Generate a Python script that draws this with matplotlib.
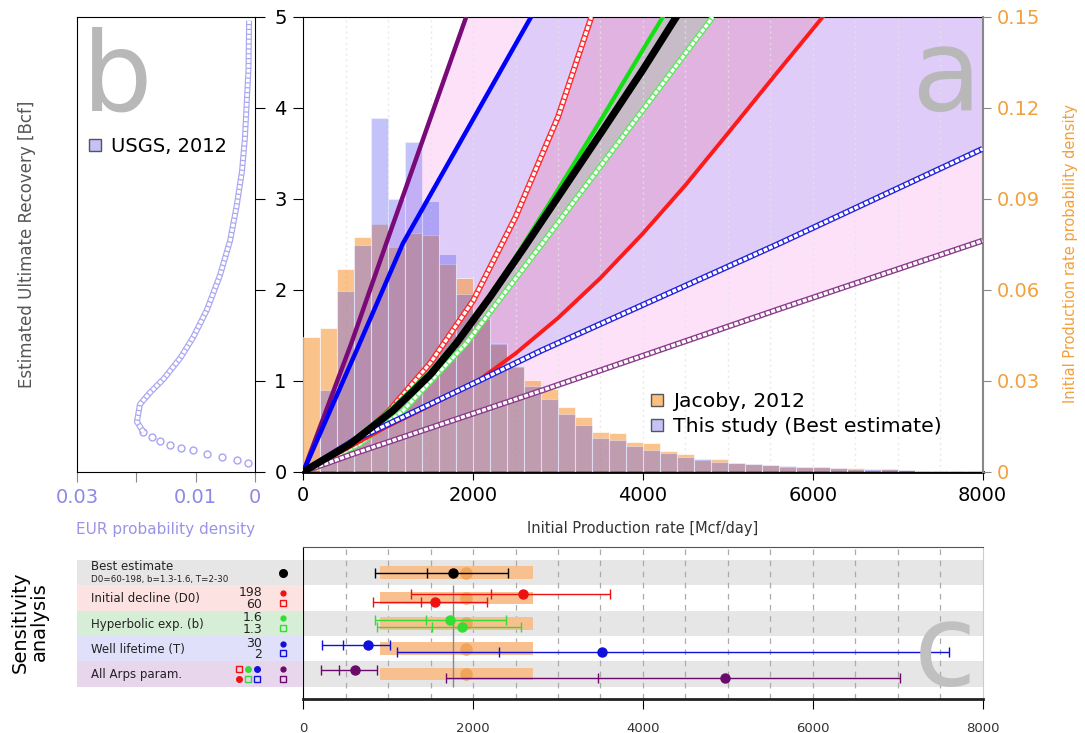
import numpy as np
import matplotlib.pyplot as plt
from matplotlib.lines import Line2D

plt.rcParams['font.family'] = 'DejaVu Sans'
plt.rcParams['lines.scale_dashes'] = False

# ---------------- panel a: initial production rate histograms (density)
ip_edges = np.arange(0, 8001, 200)
jacoby_dens = [0.0444, 0.0474, 0.0670, 0.0774, 0.0818, 0.0741, 0.0788, 0.0780,
               0.0686, 0.0640, 0.0505, 0.0420, 0.0347, 0.0301, 0.0272, 0.0215,
               0.0182, 0.0132, 0.0129, 0.0097, 0.0094, 0.0068, 0.0058, 0.0040,
               0.0041, 0.0030, 0.0025, 0.0022, 0.0017, 0.0017, 0.0014, 0.0012,
               0.0011, 0.0007, 0.0008, 0.0004, 0.0003, 0.0002, 0.0002, 0.0001]
study_dens = [0.0, 0.0271, 0.0595, 0.0749, 0.1168, 0.0900, 0.1088, 0.0892,
              0.0719, 0.0587, 0.0510, 0.0424, 0.0350, 0.0282, 0.0239, 0.0191,
              0.0154, 0.0112, 0.0105, 0.0086, 0.0072, 0.0061, 0.0050, 0.0042,
              0.0033, 0.0029, 0.0025, 0.0022, 0.0019, 0.0016, 0.0014, 0.0012,
              0.0009, 0.0008, 0.0008, 0.0005, 0.0003, 0.0002, 0.0001, 0.0001]

# EUR [Bcf] against initial production rate [Mcf/day]
best_x = [0, 546, 1055, 1500, 1800, 2200, 2605, 3000, 3510, 4000, 4393]
best_y = [0, 0.30, 0.67, 1.07, 1.41, 1.92, 2.47, 3.02, 3.73, 4.42, 5.0]
d0_60_x = [0, 500, 1000, 1500, 2000, 2500, 3000, 3393]
d0_60_y = [0, 0.24, 0.66, 1.20, 1.88, 2.80, 3.90, 5.0]
d0_198_x = [0, 467, 976, 1500, 2035, 2500, 3000, 3500, 4000, 4500, 5000,
            5608, 6118]
d0_198_y = [0, 0.23, 0.49, 0.73, 0.985, 1.30, 1.69, 2.13, 2.62, 3.15, 3.72,
            4.42, 5.0]
b16_x = [0, 500, 1000, 1500, 2000, 2500, 3000, 3500, 4000, 4235]
b16_y = [0, 0.28, 0.66, 1.10, 1.66, 2.36, 3.10, 3.86, 4.64, 5.0]
b13_x = [0, 663, 1173, 1918, 2800, 4824]
b13_y = [0, 0.305, 0.67, 1.41, 2.49, 5.0]
t30_x = [0, 663, 1173, 1918, 2682]
t30_y = [0, 1.41, 2.51, 3.74, 5.0]
t2_x = [0, 585, 1173, 2035, 2800, 5608, 8000]
t2_y = [0, 0.34, 0.60, 0.985, 1.33, 2.51, 3.55]
all_hi_x = [0, 565, 977, 1918]
all_hi_y = [0, 1.41, 2.51, 5.0]
all_lo_x = [0, 585, 1173, 2800, 5608, 8000]
all_lo_y = [0, 0.195, 0.38, 0.89, 1.79, 2.54]

# ---------------- panel b: USGS EUR probability density
usgs_eur = [0.095, 0.13, 0.16, 0.19, 0.235, 0.265, 0.295, 0.34, 0.385, 0.435,
            0.55, 0.74, 0.87, 1.02, 1.25, 1.48, 1.78, 2.16, 2.54, 2.92, 3.30,
            3.67, 4.05, 4.43, 4.96]
usgs_dens = [0.0011, 0.0031, 0.0056, 0.0081, 0.0104, 0.0124, 0.0143, 0.0160,
             0.0174, 0.0188, 0.0199, 0.0194, 0.0177, 0.0154, 0.0126, 0.0104,
             0.0081, 0.0059, 0.0042, 0.0031, 0.0022, 0.0017, 0.0014, 0.0011,
             0.0010]

# ---------------- panel c: sensitivity of initial production rate
jacoby_range = (900, 2700)
jacoby_mean = 1920
sens_row = [5, 4, 4, 3, 3, 2, 2, 1, 1]
sens_lo = [844, 1267, 820, 844, 863, 216, 1099, 204, 1679]
sens_mid = [1455, 2208, 1388, 1451, 1514, 463, 2302, 424, 3471]
sens_mean = [1762, 2588, 1553, 1730, 1871, 765, 3518, 612, 4965]
sens_hi = [2407, 3616, 2161, 2392, 2569, 1020, 7608, 867, 7029]
sens_col = ['black', '#ee1111', '#ee1111', '#33dd33', '#33dd33',
            '#1010dd', '#1010dd', '#6a0a6a', '#6a0a6a']
sens_off = [0, 0.15, -0.15, 0.15, -0.15, 0.15, -0.15, 0.15, -0.15]

row_names = ['Best estimate', 'Initial decline (D0)', 'Hyperbolic exp. (b)',
             'Well lifetime (T)', 'All Arps param.']
row_values = [None, ('198', '60'), ('1.6', '1.3'), ('30', '2'), None]

W, H = 1085, 733


def box(l, t, r, b):
    return [l / W, 1 - b / H, (r - l) / W, (b - t) / H]


def chain(axis, x, y, color, width=4.3, inner=2.4, dash=(3.0, 1.0), z=5):
    # open-marker look: coloured band with a broken white core
    axis.plot(x, y, color=color, lw=width, solid_capstyle='butt', zorder=z)
    axis.plot(x, y, color='white', lw=inner, dashes=dash,
              dash_capstyle='butt', zorder=z)


def band(axis, xu, yu, xl, yl, color, alpha, corner=None):
    xs = list(xu) + ([corner[0]] if corner else []) + list(xl[::-1])
    ys = list(yu) + ([corner[1]] if corner else []) + list(yl[::-1])
    axis.fill(xs, ys, color=color, alpha=alpha, lw=0, zorder=1)


fig = plt.figure(figsize=(10.85, 7.33), dpi=100)
ax = fig.add_axes(box(303.3, 17, 982.5, 471.7))
ax_b = fig.add_axes(box(77, 17, 255, 471.7))
ax_c = fig.add_axes(box(303.3, 547.3, 982.5, 699.3))
ax_t = fig.add_axes(box(77, 547.3, 303.3, 699.3))

# ---- panel a
ax.set_xlim(0, 8000)
ax.set_ylim(0, 5)
corner = (8000, 5)
band(ax, all_hi_x, all_hi_y, all_lo_x, all_lo_y, '#fab6f2', 0.4, corner)
band(ax, t30_x, t30_y, t2_x, t2_y, '#c3b8fa', 0.5, corner)
band(ax, d0_60_x, d0_60_y, d0_198_x, d0_198_y, '#e58ebe', 0.4)
band(ax, b16_x, b16_y, b13_x, b13_y, '#a1c8a4', 0.4)
for xv in range(500, 8000, 500):
    ax.axvline(xv, color='#e4e4e4', lw=1, ls=(0, (1.5, 2.5)), alpha=0.8, zorder=2)

ax.set_xticks([0, 2000, 4000, 6000, 8000])
ax.set_yticks([0, 1, 2, 3, 4, 5])
ax.tick_params(axis='x', labelsize=14, length=6, pad=4)
ax.tick_params(axis='y', labelsize=14, length=7, pad=5)
ax.spines['right'].set_visible(False)
ax.spines['bottom'].set_linewidth(2)
ax.set_xlabel('Initial Production rate [Mcf/day]', fontsize=10.5, color='#333')
ax.xaxis.set_label_coords(0.5, -0.108)

axh = ax.twinx()
axh.set_ylim(0, 0.15)
axh.bar(ip_edges[:-1], jacoby_dens, width=200, align='edge', color='#f79b3f',
        alpha=0.6, edgecolor='white', lw=0.8)
axh.bar(ip_edges[:-1], study_dens, width=200, align='edge', color='#5454f1',
        alpha=0.35, edgecolor='white', lw=0.8)
axh.set_yticks([0, 0.03, 0.06, 0.09, 0.12, 0.15])
axh.set_yticklabels(['0', '0.03', '0.06', '0.09', '0.12', '0.15'])
axh.tick_params(axis='y', labelsize=14, labelcolor='#f2a03c', color='#888',
                length=6, pad=4)
for s in ('left', 'top', 'bottom'):
    axh.spines[s].set_visible(False)
axh.spines['right'].set_color('#888')
axh.spines['right'].set_linewidth(1.5)
axh.set_ylabel('Initial Production rate probability density', fontsize=10.5,
               color='#f2a03c')
axh.yaxis.set_label_coords(1.118, 0.48)

axc = ax.twinx()
axc.set_ylim(0, 5)
axc.yaxis.set_visible(False)
for s in axc.spines.values():
    s.set_visible(False)
axc.plot(all_hi_x, all_hi_y, color='#7a0a7a', lw=3.2, zorder=5)
axc.plot(t30_x, t30_y, color='#0000ff', lw=3.2, zorder=5)
chain(axc, d0_60_x, d0_60_y, '#ff2a2a')
chain(axc, b13_x, b13_y, '#5fe85f')
axc.plot(b16_x, b16_y, color='#11e011', lw=3.0, zorder=5)
axc.plot(best_x, best_y, color='black', lw=5.2, zorder=6)
axc.plot(d0_198_x, d0_198_y, color='#ff1a1a', lw=2.8, zorder=5)
chain(axc, t2_x, t2_y, '#2222dd')
chain(axc, all_lo_x, all_lo_y, '#8b3a8b')
axc.text(0.946, 0.795, 'a', transform=axc.transAxes, fontsize=82,
         color='#b8b8b8', ha='center', va='baseline')
hist_handles = [
    Line2D([], [], ls='', marker='s', ms=9, mfc='#fbbf80', mec='#555', mew=1),
    Line2D([], [], ls='', marker='s', ms=9, mfc='#c4c2f6', mec='#555', mew=1),
]
axc.legend(hist_handles, ['Jacoby, 2012', 'This study (Best estimate)'],
           loc='upper left', bbox_to_anchor=(0.478, 0.216), frameon=False,
           fontsize=14.7, handletextpad=0.3, labelspacing=0.3, handlelength=1.0)

# ---- panel b
ax_b.set_xlim(0.03, 0)
ax_b.set_ylim(0, 5)
ax_b.plot(usgs_dens[:10], usgs_eur[:10], ls='', marker='o', ms=5, mfc='none',
          mec='#a9a4f2', mew=1)
chain(ax_b, usgs_dens[9:], usgs_eur[9:], '#aaa6f2', width=4.3, inner=2.6,
      dash=(2.6, 0.9))
ax_b.set_xticks([0.03, 0.02, 0.01, 0])
ax_b.set_xticklabels(['0.03', '', '0.01', '0'])
ax_b.tick_params(axis='x', labelsize=14, labelcolor='#8c88e6', color='#888',
                 length=7, pad=5)
ax_b.yaxis.tick_right()
ax_b.set_yticks([0, 1, 2, 3, 4, 5])
ax_b.tick_params(axis='y', labelright=False, length=7)
ax_b.set_xlabel('EUR probability density', fontsize=11, color='#9a94e6')
ax_b.xaxis.set_label_coords(0.5, -0.11)
ax_b.yaxis.set_label_position('left')
ax_b.set_ylabel('Estimated Ultimate Recovery [Bcf]', fontsize=12, color='#555')
ax_b.yaxis.set_label_coords(-0.228, 0.5)
ax_b.text(0.225, 0.795, 'b', transform=ax_b.transAxes, fontsize=80,
          color='#b8b8b8', ha='center', va='baseline')
ax_b.legend([Line2D([], [], ls='', marker='s', ms=9, mfc='#c4c2f6',
                    mec='#555', mew=1)], ['USGS, 2012'], loc='upper left',
            bbox_to_anchor=(-0.05, 0.774), frameon=False, fontsize=14,
            handletextpad=0.3, handlelength=1.0)

# ---- panel c
ax_c.set_xlim(0, 8000)
ax_c.set_ylim(0, 6)
for r in (5, 3, 1):
    ax_c.axhspan(r - 0.5, r + 0.5, color='#e6e6e6', lw=0, zorder=0)
for xv in range(500, 8000, 500):
    ax_c.axvline(xv, color='#aaaaaa', lw=0.9, ls=(0, (4, 4)), zorder=1)
rows = [5, 4, 3, 2, 1]
ax_c.barh(rows, jacoby_range[1] - jacoby_range[0], left=jacoby_range[0],
          height=0.5, color='#f7c08e', lw=0, zorder=2)
ax_c.plot([jacoby_mean] * len(rows), rows, ls='', marker='o', ms=8,
          color='#f0a55a', zorder=3)
ax_c.vlines(sens_mean[0], 0.5, 4.5, color='#888', lw=1, zorder=3)
for r, off, lo, mid, mean, hi, col in zip(sens_row, sens_off, sens_lo,
                                          sens_mid, sens_mean, sens_hi,
                                          sens_col):
    y = r + off
    ax_c.hlines(y, lo, hi, color=col, lw=1, zorder=4)
    ax_c.plot([lo, mid, hi], [y] * 3, ls='', marker='|', ms=7, mew=1,
              color=col, zorder=4)
    ax_c.plot(mean, y, ls='', marker='o', ms=6.5, color=col, zorder=5)
ax_c.set_xticks([0, 2000, 4000, 6000, 8000])
ax_c.set_yticks([])
ax_c.tick_params(axis='x', labelsize=9.5, labelcolor='#333', length=7, pad=9)
ax_c.spines['bottom'].set_linewidth(2)
ax_c.spines['bottom'].set_color('#222')
ax_c.spines['top'].set_color('#555')
ax_c.spines['right'].set_color('#cccccc')
ax_c.text(0.945, 0.094, 'c', transform=ax_c.transAxes, fontsize=82,
          color='#c0c0c0', ha='center', va='baseline', zorder=6)

# ---- table of runs left of panel c
ax_t.set_xlim(0, 226)
ax_t.set_ylim(0, 6)
ax_t.axis('off')
ax_t.barh(rows, 226, left=0, height=1,
          color=['#e6e6e6', '#fde2e2', '#d6eed6', '#e0e0fb', '#e8d6ec'], lw=0)
txt = dict(fontsize=8.5, color='#222', va='center', ha='left')
ax_t.text(14, 5.23, row_names[0], **txt)
ax_t.text(14, 4.72, 'D0=60-198, b=1.3-1.6, T=2-30', fontsize=6.3,
          color='#222', va='center', ha='left')
for r, name in zip(rows[1:], row_names[1:]):
    ax_t.text(14, r - 0.03, name, **txt)
for r, vals in zip(rows, row_values):
    if vals:
        ax_t.text(185, r + 0.22, vals[0], fontsize=9, color='#222',
                  va='center', ha='right')
        ax_t.text(185, r - 0.24, vals[1], fontsize=9, color='#222',
                  va='center', ha='right')
mk_x = 206
ax_t.plot(mk_x, 5, 'o', color='black', ms=5.5)
for r, col in zip(rows[1:], ['#ee1111', '#33dd33', '#1010dd', '#6a0a6a']):
    ax_t.plot(mk_x, r + 0.2, 'o', color=col, ms=3.5)
    ax_t.plot(mk_x, r - 0.18, 's', mfc='none', mec=col, ms=5, mew=1)
grp_x = [162, 171, 180]
grp_col = ['#ee1111', '#33dd33', '#1010dd']
for gx, col, top_open in zip(grp_x, grp_col, [True, False, False]):
    ax_t.plot(gx, 1.2, 's' if top_open else 'o', mfc='none' if top_open else col,
              mec=col, ms=5 if top_open else 4, mew=1)
    ax_t.plot(gx, 0.82, 'o' if top_open else 's',
              mfc=col if top_open else 'none', mec=col,
              ms=4 if top_open else 5, mew=1)

fig.text(30 / W, 1 - 622 / H, 'Sensitivity\nanalysis', rotation=90,
         fontsize=14, ha='center', va='center', linespacing=1.0)

fig.savefig('out.png', dpi=100)
